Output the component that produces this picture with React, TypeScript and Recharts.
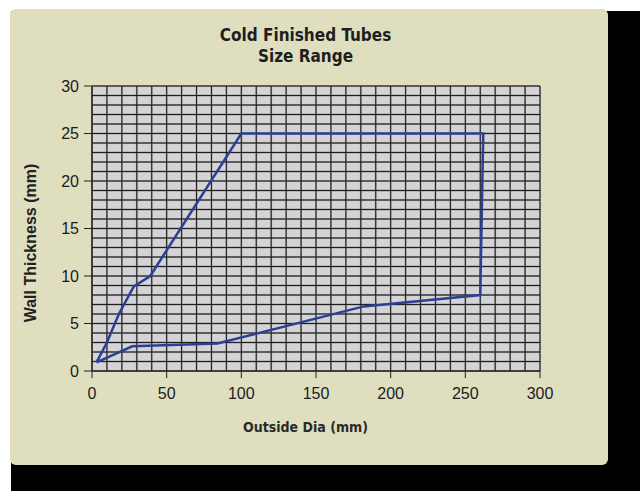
import { CartesianGrid, Line, LineChart, XAxis, YAxis } from 'recharts';

// outline of the size range, traced clockwise from the smallest tube
const outsideDia = [3, 10, 18, 28, 39, 100, 262, 260, 182, 84, 27, 3];
const wallThickness = [0.9, 3, 6, 8.9, 10, 25, 25, 8, 6.8, 2.9, 2.6, 0.9];

const xTicks = [0, 50, 100, 150, 200, 250, 300];
const yTicks = [0, 5, 10, 15, 20, 25, 30];
const xGrid = [0, 10, 20, 30, 40, 50, 60, 70, 80, 90, 100, 110, 120, 130, 140, 150, 160, 170, 180, 190, 200, 210, 220, 230, 240, 250, 260, 270, 280, 290, 300];
const yGrid = [0, 1, 2, 3, 4, 5, 6, 7, 8, 9, 10, 11, 12, 13, 14, 15, 16, 17, 18, 19, 20, 21, 22, 23, 24, 25, 26, 27, 28, 29, 30];

const data = outsideDia.map((x, i) => ({ x, y: wallThickness[i] }));

const condensed = '"Liberation Sans Narrow", "DejaVu Sans Condensed", sans-serif';
const tickStyle = { fill: '#1c1c1c', fontSize: 16, fontFamily: '"Liberation Sans", Arial, sans-serif' };

export default function App() {
  return (
    <div style={{ position: 'fixed', left: 0, top: 0, width: 640, height: 491, background: '#fff', overflow: 'hidden' }}>
      <div style={{ position: 'absolute', left: 11, top: 11, width: 629, height: 480, background: '#000' }} />
      <div
        style={{
          position: 'absolute',
          left: 10,
          top: 9,
          width: 598,
          height: 456,
          background: '#dfdebf',
          borderRadius: 6,
        }}
      />
      <div
        style={{
          position: 'absolute',
          left: 0,
          width: 611,
          top: 25,
          textAlign: 'center',
          fontFamily: condensed,
          fontWeight: 'bold',
          fontSize: 17,
          lineHeight: '21px',
          color: '#1e1e1e',
        }}
      >
        Cold Finished Tubes
        <br />
        Size Range
      </div>
      <div style={{ position: 'absolute', left: 0, top: 0 }}>
        <LineChart width={640} height={491} data={data} margin={{ top: 86, right: 100, bottom: 90, left: 32 }}>
          <CartesianGrid
            fill="#d4d4d7"
            stroke="#9a9a9a"
            strokeWidth={1.8}
            verticalValues={xGrid}
            horizontalValues={yGrid}
          />
          <CartesianGrid fill="none" stroke="#111" strokeWidth={0.9} verticalValues={xGrid} horizontalValues={yGrid} />
          <XAxis
            dataKey="x"
            type="number"
            domain={[0, 300]}
            ticks={xTicks}
            height={30}
            tickSize={7}
            tickMargin={10}
            tick={tickStyle}
            stroke="#222"
            interval={0}
          />
          <YAxis
            type="number"
            domain={[0, 30]}
            ticks={yTicks}
            width={60}
            tickSize={8}
            tickMargin={5}
            tick={tickStyle}
            stroke="#222"
            interval={0}
          />
          <Line
            dataKey="y"
            type="linear"
            stroke="#2b3f94"
            strokeWidth={2.5}
            dot={false}
            activeDot={false}
            isAnimationActive={false}
          />
        </LineChart>
      </div>
      <div
        style={{
          position: 'absolute',
          left: 0,
          width: 611,
          top: 419,
          textAlign: 'center',
          fontFamily: condensed,
          fontWeight: 'bold',
          fontSize: 14,
          color: '#2a2a2a',
        }}
      >
        Outside Dia (mm)
      </div>
      <div
        style={{
          position: 'absolute',
          left: 31,
          top: 243,
          transform: 'translate(-50%, -50%) rotate(-90deg)',
          whiteSpace: 'nowrap',
          fontFamily: '"Liberation Sans", Arial, sans-serif',
          fontWeight: 'bold',
          fontSize: 16,
          color: '#222',
        }}
      >
        Wall Thickness (mm)
      </div>
    </div>
  );
}
